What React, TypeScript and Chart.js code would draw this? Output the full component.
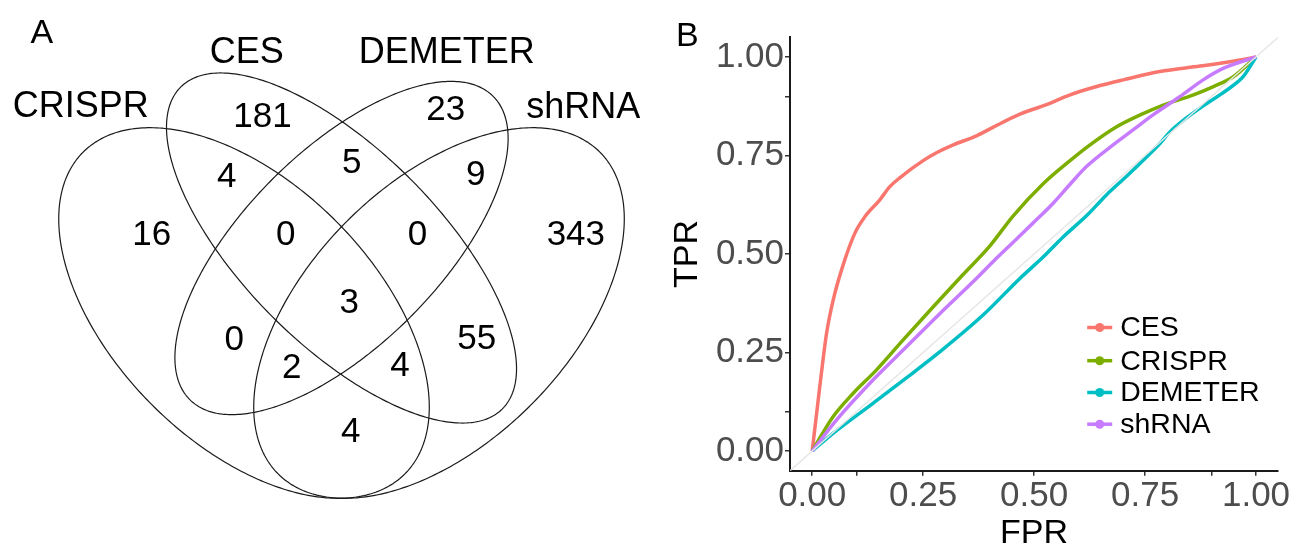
import React, { useEffect, useRef } from 'react';
import { Chart, registerables } from 'chart.js';

Chart.register(...registerables);

const FONT = '"Liberation Sans", Arial, Helvetica, sans-serif';

// ---------------- Panel A : Venn diagram (VennDiagram-style units) ----------------
const vennSets = ['CRISPR', 'CES', 'DEMETER', 'shRNA'];
const ellipseCx = [0.35, 0.5, 0.5, 0.65];
const ellipseCy = [0.47, 0.57, 0.57, 0.47];
const ellipseA = [0.35, 0.35, 0.33, 0.35];
const ellipseB = [0.2, 0.15, 0.15, 0.2];
const ellipseRot = [135, 135, 45, 45];
const setLabelX = [0.0989, 0.3541, 0.6618, 0.872];
const setLabelY = [0.7711, 0.8551, 0.8542, 0.7695];

const regionCounts = [181, 4, 16, 0, 23, 5, 9, 0, 343, 3, 0, 2, 4, 55, 4];
const regionX = [0.3785, 0.3234, 0.208, 0.4143, 0.6605, 0.5157, 0.7066, 0.6169, 0.8605, 0.5118, 0.3349, 0.4234, 0.59, 0.708, 0.5143];
const regionY = [0.7566, 0.6643, 0.5746, 0.5746, 0.7669, 0.6849, 0.6669, 0.5746, 0.5746, 0.4695, 0.4131, 0.3695, 0.3731, 0.4142, 0.272];

const vennXRange = [-0.0254, 0.9746];
const vennYRange = [0.1085, 0.9515];
const panelALabel = { text: 'A', x: 0.0388, y: 0.8849 };

// ---------------- Panel B : ROC curves ----------------
const rocSeries = ['CES', 'CRISPR', 'DEMETER', 'shRNA'];
const rocColors = ['#F8766D', '#7CAE00', '#00BFC4', '#C77CFF'];

const cesFpr = [0, 0.0135, 0.0225, 0.0324, 0.0473, 0.0685, 0.0962, 0.119, 0.152, 0.175, 0.198, 0.25, 0.28, 0.318, 0.37, 0.408, 0.468, 0.528, 0.581, 0.641, 0.701, 0.783, 0.874, 0.941, 1];
const cesTpr = [0, 0.129, 0.214, 0.299, 0.383, 0.468, 0.553, 0.595, 0.637, 0.671, 0.694, 0.737, 0.757, 0.777, 0.8, 0.822, 0.855, 0.879, 0.904, 0.925, 0.942, 0.963, 0.977, 0.988, 1];

const crisprFpr = [0, 0.047, 0.092, 0.145, 0.205, 0.28, 0.34, 0.4, 0.453, 0.521, 0.581, 0.626, 0.686, 0.739, 0.791, 0.859, 0.904, 0.949, 1];
const crisprTpr = [0, 0.087, 0.146, 0.206, 0.282, 0.375, 0.448, 0.52, 0.597, 0.679, 0.737, 0.777, 0.823, 0.853, 0.878, 0.904, 0.925, 0.95, 1];

const demeterFpr = [0, 0.047, 0.137, 0.213, 0.288, 0.385, 0.468, 0.521, 0.566, 0.618, 0.663, 0.709, 0.754, 0.784, 0.806, 0.844, 0.889, 0.934, 0.971, 1];
const demeterTpr = [0, 0.045, 0.121, 0.186, 0.252, 0.345, 0.438, 0.493, 0.544, 0.597, 0.65, 0.698, 0.747, 0.781, 0.81, 0.846, 0.882, 0.916, 0.95, 1];

const shrnaFpr = [0, 0.055, 0.137, 0.213, 0.288, 0.363, 0.408, 0.453, 0.498, 0.543, 0.581, 0.618, 0.678, 0.723, 0.768, 0.828, 0.881, 0.926, 1];
const shrnaTpr = [0, 0.079, 0.18, 0.265, 0.349, 0.43, 0.481, 0.53, 0.579, 0.629, 0.677, 0.722, 0.777, 0.815, 0.853, 0.899, 0.942, 0.971, 1];

const rocFpr = [cesFpr, crisprFpr, demeterFpr, shrnaFpr];
const rocTpr = [cesTpr, crisprTpr, demeterTpr, shrnaTpr];

const axisRange = [-0.05, 1.05];
const tickValues = [0, 0.1, 0.25, 0.5, 0.75, 0.9, 1];
const labeledTicks = [0, 0.25, 0.5, 0.75, 1];

const vennPlugin = {
  id: 'vennDraw',
  afterDraw(chart: any) {
    const { ctx, scales } = chart;
    const sx = scales.x;
    const sy = scales.y;
    ctx.save();
    ctx.strokeStyle = '#1a1a1a';
    ctx.lineWidth = 1.2;
    for (let i = 0; i < vennSets.length; i++) {
      const th = (ellipseRot[i] * Math.PI) / 180;
      ctx.beginPath();
      const n = 360;
      for (let k = 0; k <= n; k++) {
        const t = (k / n) * Math.PI * 2;
        const ux = ellipseCx[i] + ellipseA[i] * Math.cos(t) * Math.cos(th) - ellipseB[i] * Math.sin(t) * Math.sin(th);
        const uy = ellipseCy[i] + ellipseA[i] * Math.cos(t) * Math.sin(th) + ellipseB[i] * Math.sin(t) * Math.cos(th);
        const px = sx.getPixelForValue(ux);
        const py = sy.getPixelForValue(uy);
        if (k === 0) ctx.moveTo(px, py);
        else ctx.lineTo(px, py);
      }
      ctx.closePath();
      ctx.stroke();
    }
    ctx.fillStyle = '#000';
    ctx.textAlign = 'center';
    ctx.textBaseline = 'alphabetic';
    ctx.font = `36px ${FONT}`;
    for (let i = 0; i < vennSets.length; i++) {
      ctx.fillText(vennSets[i], sx.getPixelForValue(setLabelX[i]), sy.getPixelForValue(setLabelY[i]));
    }
    ctx.font = `35px ${FONT}`;
    for (let i = 0; i < regionCounts.length; i++) {
      ctx.fillText(String(regionCounts[i]), sx.getPixelForValue(regionX[i]), sy.getPixelForValue(regionY[i]));
    }
    ctx.font = `34px ${FONT}`;
    ctx.fillText(panelALabel.text, sx.getPixelForValue(panelALabel.x), sy.getPixelForValue(panelALabel.y));
    ctx.restore();
  },
};

const rocDecorPlugin = {
  id: 'rocDecor',
  afterDraw(chart: any) {
    const { ctx, chartArea } = chart;
    ctx.save();
    // legend
    const x0 = chartArea.right - 191;
    const rowOffsets = [143.2, 110, 78.2, 46.5];
    ctx.font = `28.5px ${FONT}`;
    ctx.textAlign = 'left';
    ctx.textBaseline = 'middle';
    for (let i = 0; i < rocSeries.length; i++) {
      const y = chartArea.bottom - rowOffsets[i];
      ctx.strokeStyle = rocColors[i];
      ctx.lineWidth = 3.5;
      ctx.beginPath();
      ctx.moveTo(x0, y);
      ctx.lineTo(x0 + 25, y);
      ctx.stroke();
      ctx.fillStyle = rocColors[i];
      ctx.beginPath();
      ctx.arc(x0 + 12.5, y, 4.5, 0, Math.PI * 2);
      ctx.fill();
      ctx.fillStyle = '#000';
      ctx.fillText(rocSeries[i], x0 + 33, y + 1);
    }
    // panel letter
    ctx.font = `34px ${FONT}`;
    ctx.textBaseline = 'alphabetic';
    ctx.fillStyle = '#000';
    ctx.fillText('B', chartArea.left - 114, chartArea.top + 8.2);
    ctx.restore();
  },
};

export default function App() {
  const leftRef = useRef<HTMLCanvasElement>(null);
  const rightRef = useRef<HTMLCanvasElement>(null);

  useEffect(() => {
    const venn = new Chart(leftRef.current as HTMLCanvasElement, {
      type: 'scatter',
      data: { datasets: [] },
      options: {
        responsive: false,
        animation: false,
        layout: { padding: 0 },
        plugins: { legend: { display: false }, tooltip: { enabled: false } },
        scales: {
          x: { type: 'linear', min: vennXRange[0], max: vennXRange[1], display: false },
          y: { type: 'linear', min: vennYRange[0], max: vennYRange[1], display: false },
        },
      },
      plugins: [vennPlugin],
    } as any);

    const datasets: any[] = rocSeries.map((name, i) => ({
      label: name,
      data: rocFpr[i].map((x, j) => ({ x, y: rocTpr[i][j] })),
      borderColor: rocColors[i],
      backgroundColor: rocColors[i],
      borderWidth: 3.5,
      pointRadius: 0,
      showLine: true,
      fill: false,
      cubicInterpolationMode: 'monotone',
      order: 4 - i,
    }));
    datasets.push({
      label: 'diagonal',
      data: axisRange.map((v) => ({ x: v, y: v })),
      borderColor: '#e6e6e6',
      borderWidth: 1.5,
      pointRadius: 0,
      showLine: true,
      fill: false,
      order: 0,
    });

    const tickFont = { family: FONT, size: 35 };
    const titleFont = { family: FONT, size: 34 };
    const fmt = (v: any) => (labeledTicks.includes(Number(v)) ? Number(v).toFixed(2) : '');

    const roc = new Chart(rightRef.current as HTMLCanvasElement, {
      type: 'scatter',
      data: { datasets },
      options: {
        responsive: false,
        animation: false,
        layout: { padding: { top: 37.3, right: 32.8, bottom: 0, left: 0 } },
        plugins: { legend: { display: false }, tooltip: { enabled: false } },
        scales: {
          x: {
            type: 'linear',
            min: axisRange[0],
            max: axisRange[1],
            afterBuildTicks: (s: any) => {
              s.ticks = tickValues.map((v) => ({ value: v }));
            },
            afterFit: (s: any) => {
              s.height = 77.3;
            },
            ticks: { autoSkip: false, maxRotation: 0, color: '#4d4d4d', font: tickFont, padding: 0, callback: fmt },
            grid: { display: true, drawOnChartArea: false, drawTicks: true, tickLength: 5, color: '#333333', lineWidth: 1.5 },
            border: { display: true, color: '#1a1a1a', width: 2 },
            title: { display: true, text: 'FPR', color: '#000', font: titleFont, padding: { top: 0, bottom: -6.5 } },
          },
          y: {
            type: 'linear',
            min: axisRange[0],
            max: axisRange[1],
            afterBuildTicks: (s: any) => {
              s.ticks = tickValues.map((v) => ({ value: v }));
            },
            afterFit: (s: any) => {
              s.width = 140;
            },
            ticks: { autoSkip: false, color: '#4d4d4d', font: tickFont, padding: 1, callback: fmt },
            grid: { display: true, drawOnChartArea: false, drawTicks: true, tickLength: 5, color: '#333333', lineWidth: 1.5 },
            border: { display: true, color: '#1a1a1a', width: 2 },
            title: { display: true, text: 'TPR', color: '#000', font: titleFont, padding: { top: 17.2, bottom: 0 } },
          },
        },
      },
      plugins: [rocDecorPlugin],
    } as any);

    return () => {
      venn.destroy();
      roc.destroy();
    };
  }, []);

  return (
    <div style={{ position: 'absolute', left: 0, top: 0, width: 1311, height: 548, background: '#fff', overflow: 'hidden' }}>
      <canvas ref={leftRef} width={650} height={548} style={{ position: 'absolute', left: 0, top: 0, width: 650, height: 548 }} />
      <canvas ref={rightRef} width={661} height={548} style={{ position: 'absolute', left: 650, top: 0, width: 661, height: 548 }} />
    </div>
  );
}
